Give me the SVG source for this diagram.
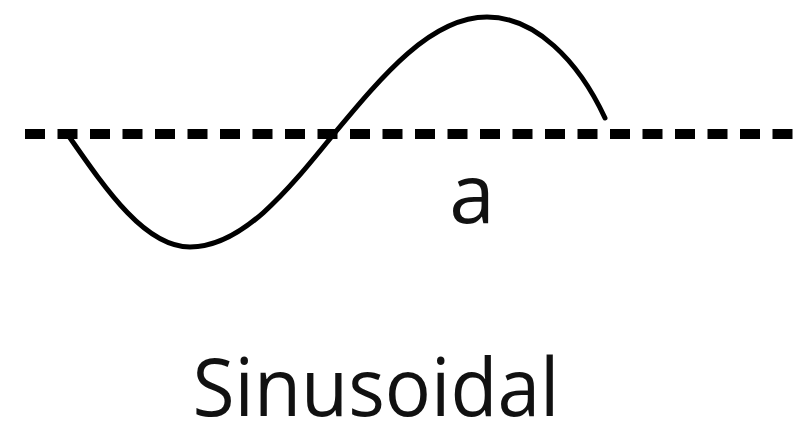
<svg xmlns="http://www.w3.org/2000/svg" width="804" height="429" viewBox="0 0 804 429">
<style>
.axis{stroke:#000;stroke-width:10;stroke-dasharray:20 12.5;fill:none}
.wave{stroke:#000;stroke-width:5;fill:none;stroke-linecap:round}
.lbl{font-family:"Open Sans","Noto Sans",sans-serif;fill:#111}
</style>
<rect width="804" height="429" fill="#fff"/>
<g id="axis"><line class="axis" x1="25" y1="134" x2="804" y2="134"/></g>
<g id="wave"><path class="wave" d="M68,135 C107.8,192.4 145.8,247 190,247 C241.8,247 286.4,192.4 333,135 C383.2,74.6 431.3,17 487,17 C535,17 578,60 605,118"/></g>
<g id="label-a"><text class="lbl" x="472" y="223" font-size="82" text-anchor="middle">a</text></g>
<g id="title"><text class="lbl" x="376" y="416" font-size="80" text-anchor="middle" textLength="367" lengthAdjust="spacingAndGlyphs">Sinusoidal</text></g>
</svg>
